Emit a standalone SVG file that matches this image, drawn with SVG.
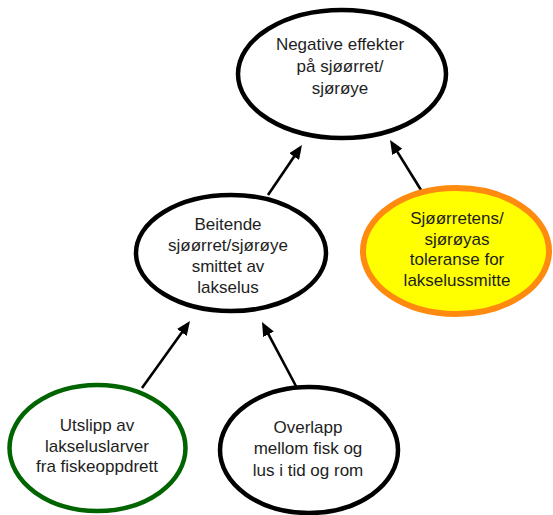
<svg xmlns="http://www.w3.org/2000/svg" width="553" height="515" viewBox="0 0 553 515">
  <style>
    .node { fill: #ffffff; stroke: #000000; stroke-width: 4.5; }
    .warm { fill: #ffff00; stroke: #ff8a10; stroke-width: 6; }
    .green { fill: #ffffff; stroke: #006400; stroke-width: 4.5; }
    .label { font-family: "Liberation Sans", Arial, sans-serif; font-size: 17px; fill: #1e1e1e; text-anchor: middle; }
    .link { stroke: #000000; stroke-width: 2.6; fill: none; marker-end: url(#head); }
  </style>
  <defs>
    <marker id="head" viewBox="0 0 14 12" refX="8" refY="6" markerWidth="14" markerHeight="12" markerUnits="userSpaceOnUse" orient="auto">
      <path d="M0,0 L14,6 L0,12 Z" fill="#000000"/>
    </marker>
  </defs>

  <rect width="553" height="515" fill="#ffffff"/>

  <g id="connectors">
    <line class="link" x1="268" y1="195" x2="298.6" y2="150"/>
    <line class="link" x1="421" y1="190" x2="393.2" y2="145.1"/>
    <line class="link" x1="142" y1="388" x2="186.5" y2="325.9"/>
    <line class="link" x1="297" y1="388" x2="264.8" y2="327.3"/>
  </g>

  <g id="negative-effects">
    <ellipse class="node" cx="342" cy="74" rx="104" ry="64"/>
    <text class="label" x="340" y="50">Negative effekter</text>
    <text class="label" x="340" y="72">på sjøørret/</text>
    <text class="label" x="340" y="94">sjørøye</text>
  </g>

  <g id="grazing-infected">
    <ellipse class="node" cx="231" cy="253" rx="95" ry="58"/>
    <text class="label" x="228" y="230">Beitende</text>
    <text class="label" x="228" y="251">sjøørret/sjørøye</text>
    <text class="label" x="228" y="272">smittet av</text>
    <text class="label" x="228" y="293">lakselus</text>
  </g>

  <g id="tolerance">
    <ellipse class="warm" cx="456" cy="251" rx="93" ry="63"/>
    <text class="label" x="457" y="224">Sjøørretens/</text>
    <text class="label" x="457" y="245">sjørøyas</text>
    <text class="label" x="457" y="265">toleranse for</text>
    <text class="label" x="457" y="286">lakselussmitte</text>
  </g>

  <g id="larvae-release">
    <ellipse class="green" cx="97.5" cy="448" rx="88" ry="63"/>
    <text class="label" x="97" y="431">Utslipp av</text>
    <text class="label" x="97" y="452">lakseluslarver</text>
    <text class="label" x="97" y="472">fra fiskeoppdrett</text>
  </g>

  <g id="overlap">
    <ellipse class="node" cx="309" cy="450" rx="89" ry="63"/>
    <text class="label" x="308" y="433">Overlapp</text>
    <text class="label" x="308" y="454">mellom fisk og</text>
    <text class="label" x="308" y="476">lus i tid og rom</text>
  </g>
</svg>
